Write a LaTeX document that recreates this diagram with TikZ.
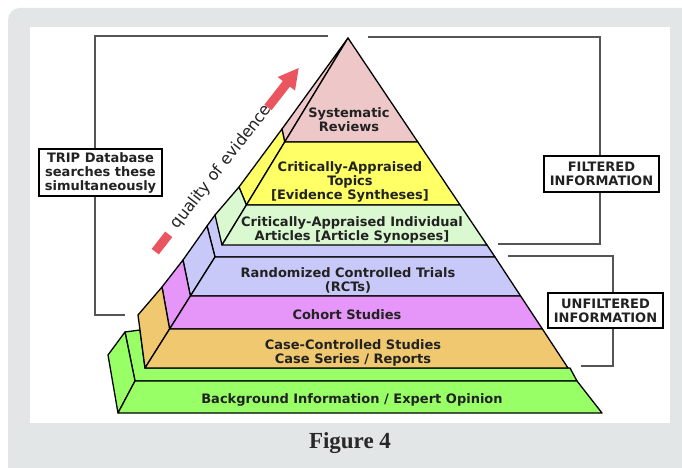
\documentclass[tikz,border=0pt]{standalone}
\usepackage{fontspec}
\setmainfont{DejaVu Sans}
\newfontfamily\figfont{Liberation Serif}
\usetikzlibrary{calc}
\definecolor{cardgray}{RGB}{226,230,230}
\definecolor{cpink}{RGB}{238,200,200}
\definecolor{cyellow}{RGB}{255,255,102}
\definecolor{clgreen}{RGB}{218,249,208}
\definecolor{clav}{RGB}{201,201,249}
\definecolor{cmag}{RGB}{230,150,248}
\definecolor{corange}{RGB}{240,200,112}
\definecolor{cgreen}{RGB}{153,255,102}
\definecolor{cred}{RGB}{234,85,96}
\definecolor{brk}{RGB}{85,85,85}
\definecolor{txt}{RGB}{34,34,34}
\definecolor{figtxt}{RGB}{40,40,40}
\tikzset{
  face/.style={draw=black, line width=1.3pt, line join=round},
  lbl/.style={font=\fontsize{13}{14}\selectfont\bfseries, text=txt, align=center, inner sep=0pt},
  infobox/.style={draw=black, line width=1.5pt, fill=white, font=\fontsize{13}{14}\selectfont\bfseries, text=txt, align=center, inner sep=2pt},
  bracket/.style={draw=brk, line width=1.4pt},
}
\begin{document}
\begin{tikzpicture}[x=1pt,y=-1pt]
\useasboundingbox (0,0) rectangle (682,468);
\fill[white] (0,0) rectangle (682,468);
\begin{scope}
  \clip (0,0) rectangle (682,468);
  \fill[cardgray, rounded corners=12pt] (8,8) rectangle (720,520);
\end{scope}
\fill[white] (30,27) rectangle (670,423);

% ---------- info boxes ----------
\node[infobox, minimum width=123, minimum height=47] (trip) at (100.5,172.5) {TRIP Database\\searches these\\simultaneously};
\node[infobox, minimum width=115, minimum height=36] (filt) at (601.5,174) {FILTERED\\INFORMATION};
\node[infobox, minimum width=115, minimum height=35] (unfilt) at (605.5,310.5) {UNFILTERED\\INFORMATION};

% ---------- brackets ----------
\coordinate (tripTL) at (95,36);
\coordinate (tripTR) at (328,36);
\coordinate (tripBR) at (125,315);
\draw[bracket] (tripTR) -- (tripTL) -- (tripTL |- trip.north);
\draw[bracket] (tripTL |- trip.south) |- (tripBR);
\coordinate (filtTL) at (368,37);
\coordinate (filtTR) at (600,37);
\coordinate (filtBL) at (498,244);
\draw[bracket] (filtTL) -- (filtTR) -- (filtTR |- filt.north);
\draw[bracket] (filtTR |- filt.south) |- (filtBL);
\coordinate (unTL) at (508,256);
\coordinate (unTR) at (613,256);
\coordinate (unBL) at (581,366);
\draw[bracket] (unTL) -- (unTR) -- (unTR |- unfilt.north);
\draw[bracket] (unTR |- unfilt.south) |- (unBL);

% ---------- bottom slab (green) ----------
\draw[face, fill=cgreen] (135,381) -- (577,381) -- (570,368) -- (145,368) -- (140,330) -- (125,332) -- cycle;
\draw[face, fill=cgreen] (125,332) -- (108,355) -- (118,413) -- (135,381) -- cycle;
\draw[face, fill=cgreen] (135,381) -- (577,381) -- (602,413) -- (118,413) -- cycle;

% ---------- middle block (unfiltered) ----------
\draw[face, fill=clav] (215,257) -- (495,257) -- (487,245) -- (215,215) -- (207,226) -- cycle;
\draw[face, fill=clav] (215,257) -- (190.4,296) -- (183,260) -- (207,226) -- cycle;
\draw[face, fill=cmag] (190.4,296) -- (169.6,329) -- (162,287) -- (183,260) -- cycle;
\draw[face, fill=corange] (169.6,329) -- (145,368) -- (138,315) -- (162,287) -- cycle;
\draw[face, fill=clav] (215,257) -- (495,257) -- (520.6,296) -- (190.4,296) -- cycle;
\draw[face, fill=cmag] (190.4,296) -- (520.6,296) -- (542.4,329) -- (169.6,329) -- cycle;
\draw[face, fill=corange] (169.6,329) -- (542.4,329) -- (568,368) -- (145,368) -- cycle;

% ---------- top pyramid (filtered) ----------
\coordinate (A) at (348,38);
\coordinate (P1) at (284.7,142);
\coordinate (Q1) at (417.8,142);
\coordinate (P2) at (246.4,205);
\coordinate (Q2) at (460.1,205);
\coordinate (FL) at (222,245);
\coordinate (FR) at (487,245);
\coordinate (S1) at (282,129);
\coordinate (S2) at (239,187);
\coordinate (B) at (215,215);
\draw[face, fill=cpink] (A) -- (P1) -- (S1) -- cycle;
\draw[face, fill=cyellow] (P1) -- (P2) -- (S2) -- (S1) -- cycle;
\draw[face, fill=clgreen] (P2) -- (FL) -- (B) -- (S2) -- cycle;
\draw[face, fill=cpink] (A) -- (Q1) -- (P1) -- cycle;
\draw[face, fill=cyellow] (P1) -- (Q1) -- (Q2) -- (P2) -- cycle;
\draw[face, fill=clgreen] (P2) -- (Q2) -- (FR) -- (FL) -- cycle;

% ---------- labels ----------
\node[lbl] (sr) at (349,120) {Systematic\\Reviews};
\node[lbl] (cat) at (350,182) {Critically-Appraised\\Topics\\{[}Evidence Syntheses{]}};
\node[lbl] (cai) at (352,230) {Critically-Appraised Individual\\Articles {[}Article Synopses{]}};
\node[lbl] (rct) at (348,280) {Randomized Controlled Trials\\(RCTs)};
\node[lbl] (coh) at (347,315) {Cohort Studies};
\node[lbl] (ccs) at (353,353) {Case-Controlled Studies\\Case Series / Reports};
\node[lbl] (bg) at (352,400) {Background Information / Expert Opinion};

% ---------- quality of evidence ----------
\begin{scope}[shift={(162,243)}, rotate=52]
  \fill[cred] (-11,-4.5) rectangle (11,4.5);
  \fill[cred] (172,-4.5) -- (202,-4.5) -- (202,-11) -- (222,0) -- (202,11) -- (202,4.5) -- (172,4.5) -- cycle;
\end{scope}
\node[rotate=52, font=\fontsize{16}{18}\selectfont, text=txt, inner sep=0pt] (qe) at (221.5,167) {quality of evidence};

% ---------- caption ----------
\node[font=\figfont\bfseries\fontsize{23}{25}\selectfont, text=figtxt, inner sep=0pt] (fig) at (350,443) {Figure 4};
\end{tikzpicture}
\end{document}
